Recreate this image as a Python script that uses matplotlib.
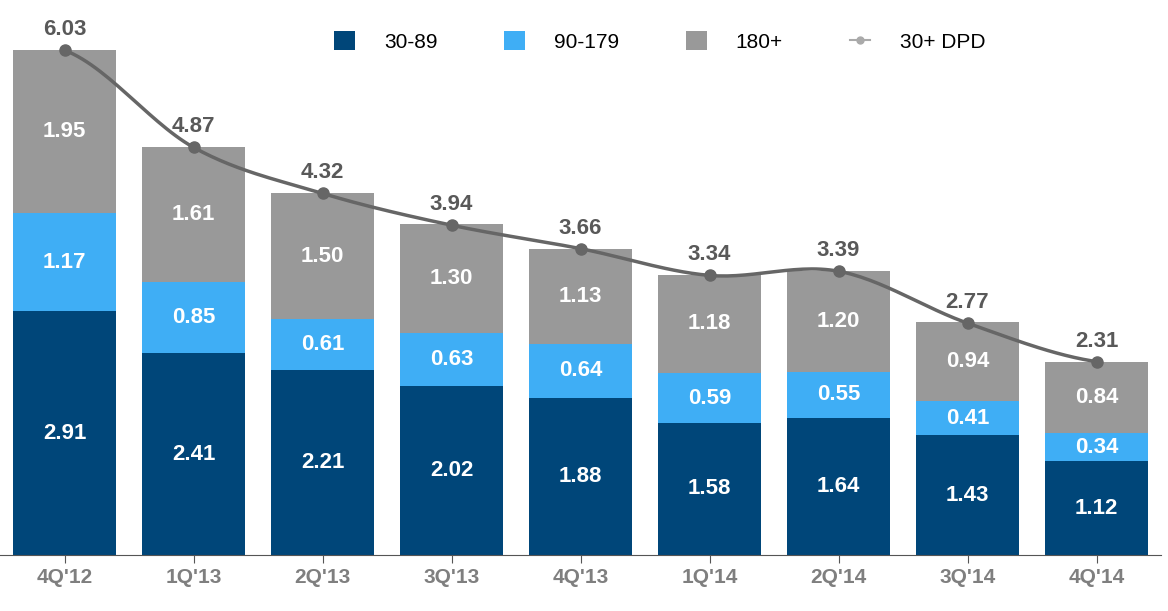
import numpy as np
import matplotlib.pyplot as plt

quarters = ["4Q'12", "1Q'13", "2Q'13", "3Q'13", "4Q'13", "1Q'14", "2Q'14", "3Q'14", "4Q'14"]
d30_89 = [2.91, 2.41, 2.21, 2.02, 1.88, 1.58, 1.64, 1.43, 1.12]
d90_179 = [1.17, 0.85, 0.61, 0.63, 0.64, 0.59, 0.55, 0.41, 0.34]
d180 = [1.95, 1.61, 1.50, 1.30, 1.13, 1.18, 1.20, 0.94, 0.84]
dpd30 = [6.03, 4.87, 4.32, 3.94, 3.66, 3.34, 3.39, 2.77, 2.31]

c_dark, c_light, c_gray, c_line = "#004679", "#3FAEF5", "#999999", "#666666"

plt.rcParams["font.family"] = "Liberation Sans"

fig = plt.figure(figsize=(11.68, 6.11), dpi=100)
ax = fig.add_axes([0.0, 1 - 555 / 611, 1161 / 1168, 555 / 611])

x = np.arange(len(quarters))
a = np.array(d30_89)
b = np.array(d90_179)
c = np.array(d180)
w = 0.8
h1 = ax.bar(x, a, w, color=c_dark, label="30-89")
h2 = ax.bar(x, b, w, bottom=a, color=c_light, label="90-179")
h3 = ax.bar(x, c, w, bottom=a + b, color=c_gray, label="180+")

lab = dict(ha="center", va="center", color="white", fontsize=16, fontweight="bold")
for i in x:
    ax.text(i, a[i] / 2, f"{a[i]:.2f}", **lab)
    ax.text(i, a[i] + b[i] / 2, f"{b[i]:.2f}", **lab)
    ax.text(i, a[i] + b[i] + c[i] / 2, f"{c[i]:.2f}", **lab)

# smooth line (Catmull-Rom) through the 30+ DPD points
y = np.array(dpd30)
px = np.concatenate([[x[0]], x, [x[-1]]]).astype(float)
py = np.concatenate([[y[0]], y, [y[-1]]])
sx, sy = [], []
t = np.linspace(0, 1, 30)
for k in range(1, len(px) - 2):
    p0, p1, p2, p3 = py[k - 1], py[k], py[k + 1], py[k + 2]
    m1, m2 = (p2 - p0) / 2, (p3 - p1) / 2
    h00 = 2 * t**3 - 3 * t**2 + 1
    h10 = t**3 - 2 * t**2 + t
    h01 = -2 * t**3 + 3 * t**2
    h11 = t**3 - t**2
    sx.extend(px[k] + t)
    sy.extend(h00 * p1 + h10 * m1 + h01 * p2 + h11 * m2)
ax.plot(sx, sy, color=c_line, lw=2.5, zorder=3)
ax.plot(x, y, "o", color=c_line, ms=8, zorder=4)
h4, = ax.plot([], [], "-o", color="#aaaaaa", ms=5, lw=1.5, label="30+ DPD")
for i in x:
    ax.text(i, y[i] + 0.12, f"{y[i]:.2f}", ha="center", va="bottom", color="#595959",
            fontsize=16, fontweight="bold")

ax.set_xlim(-0.5, 8.5)
ax.set_ylim(0, 6.63)
ax.set_xticks(x)
ax.set_xticklabels(quarters, fontsize=15, fontweight="bold", color="#7f7f7f")
ax.tick_params(axis="x", length=6, color="#555555")
ax.set_yticks([])
for s in ["top", "right", "left"]:
    ax.spines[s].set_visible(False)
ax.spines["bottom"].set_color("#555555")

ax.legend([h1, h2, h3, h4], ["30-89", "90-179", "180+", "30+ DPD"],
          loc="center", bbox_to_anchor=(0.568, 0.925), ncol=4, frameon=False, fontsize=15,
          handlelength=1.0, handleheight=1.0, columnspacing=3.2, handletextpad=1.4)

fig.savefig("out.png")
